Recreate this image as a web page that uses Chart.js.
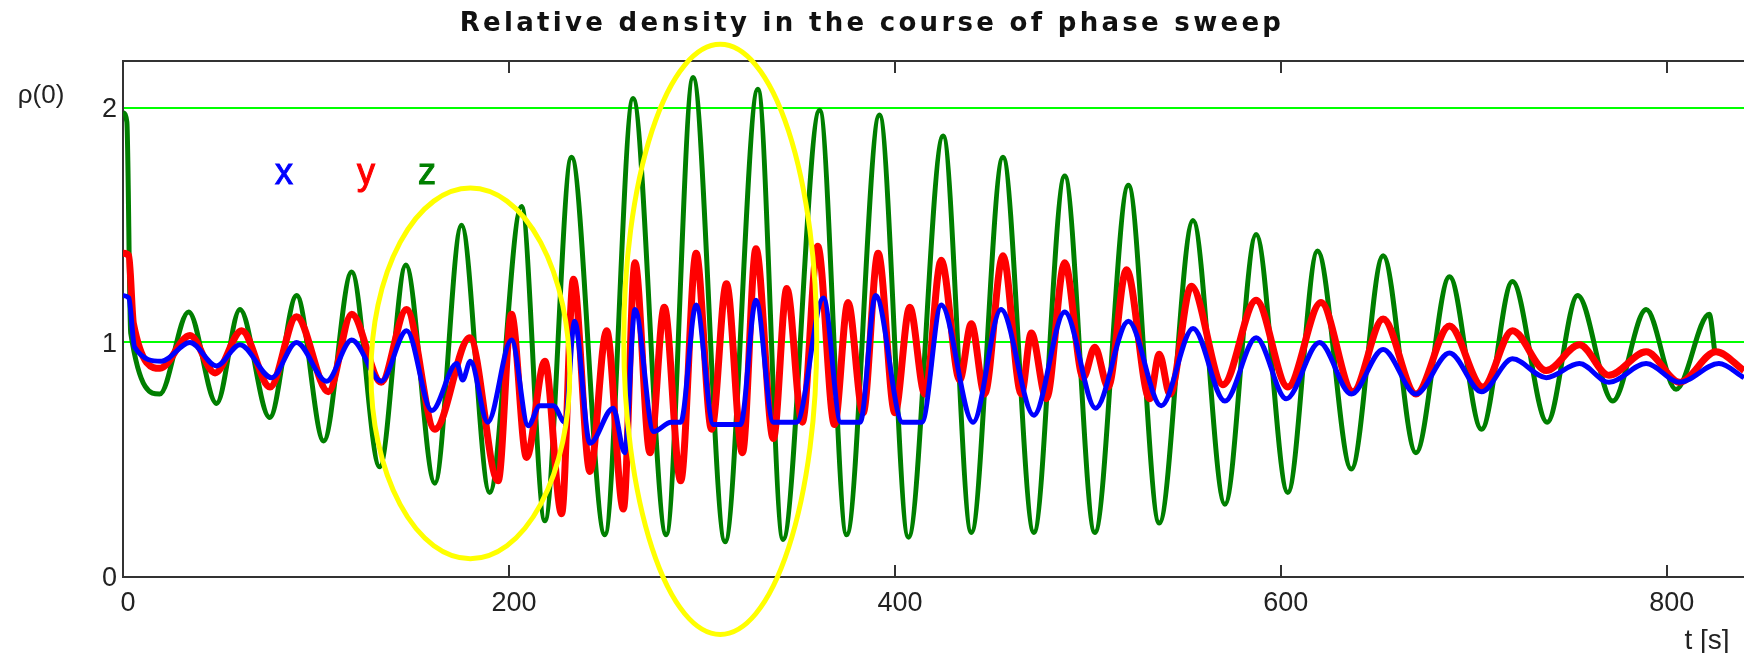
<!DOCTYPE html>
<html>
<head>
<meta charset="utf-8">
<script src="https://cdn.jsdelivr.net/npm/chart.js@4/dist/chart.umd.min.js"></script>
<style>
  html, body { margin: 0; padding: 0; background: #fff; overflow: hidden; }
</style>
</head>
<body>
<canvas id="sweep" width="1744" height="653"></canvas>
<script>
// relative density rho(0) during the phase sweep, read off peak by peak
// [t in s, rho]

var xTicks = [0, 200, 400, 600, 800];
var yTicks = [0, 1, 2];

var rhoX = [
  [0, 1.2], [3, 1.19], [6, 0.98], [20, 0.92], [34.7, 1.0], [48.5, 0.9], [60.6, 0.99],
  [77, 0.85], [89.9, 1.0], [105.5, 0.835], [118.5, 1.01], [133.8, 0.835], [147, 1.05],
  [160, 0.71], [173, 0.91], [176, 0.84], [180, 0.92], [189, 0.66], [201.3, 1.01],
  [210, 0.645], [216, 0.73], [223, 0.73], [229, 0.66], [234, 1.09], [242, 0.57],
  [254, 0.72], [260, 0.53], [265.3, 1.14], [275, 0.62], [284, 0.66], [289, 0.66],
  [297, 1.16], [306, 0.65], [320, 0.65], [328, 1.18], [337, 0.66], [349, 0.66],
  [363, 1.19], [372, 0.66], [382, 0.66], [390, 1.2], [404, 0.66], [414, 0.66],
  [424, 1.16], [440.5, 0.66], [455, 1.14], [472, 0.69], [488, 1.13], [504, 0.72],
  [521, 1.09], [538, 0.73], [554.5, 1.06], [571, 0.75], [587.2, 1.02], [602.8, 0.76],
  [620, 1.0], [636.5, 0.78], [653, 0.97], [670, 0.78], [687.4, 0.955], [704, 0.79],
  [720, 0.93], [737.5, 0.85], [754.7, 0.91], [770, 0.83], [789.3, 0.91], [806.6, 0.83],
  [827, 0.91], [840, 0.85]
];

var rhoY = [
  [0, 1.38], [3, 1.37], [5.4, 1.08], [19.2, 0.89], [34.7, 1.03], [47.7, 0.87], [61.5, 1.05],
  [76.2, 0.81], [89.9, 1.11], [106.4, 0.79], [118.5, 1.12], [133.8, 0.83], [146.9, 1.14],
  [161.6, 0.63], [179.7, 1.02], [194.4, 0.41], [201.3, 1.12], [209.1, 0.51], [218.6, 0.92],
  [227.3, 0.27], [233.4, 1.27], [242, 0.45], [250.6, 1.05], [259.3, 0.29], [265.3, 1.34],
  [273.1, 0.53], [280.5, 1.15], [289, 0.41], [297, 1.38], [305, 0.63], [312.7, 1.25],
  [321, 0.53], [328, 1.4], [337, 0.59], [344, 1.23], [352, 0.66], [360, 1.41], [368.7, 0.65],
  [375.7, 1.17], [383.5, 0.7], [391.3, 1.38], [400, 0.7], [407.7, 1.15], [415.5, 0.78],
  [424, 1.35], [433.6, 0.84], [439.6, 1.08], [446.5, 0.78], [456, 1.37], [465.5, 0.78],
  [470.7, 1.04], [478.5, 0.76], [488, 1.34], [497.6, 0.85], [503.6, 0.98], [510.5, 0.81],
  [520, 1.31], [532, 0.76], [537, 0.95], [542.5, 0.78], [553.6, 1.24], [570, 0.82],
  [587.2, 1.18], [603.6, 0.81], [620.8, 1.17], [637.3, 0.79], [653, 1.1], [670, 0.78],
  [687.4, 1.07], [704.6, 0.81], [720, 1.05], [737.5, 0.88], [754.7, 0.99], [770, 0.86],
  [789.3, 0.96], [806.6, 0.83], [825.5, 0.96], [840, 0.88]
];

var rhoZ = [
  [0, 1.98], [2, 1.94], [4, 1.04], [19, 0.78], [34, 1.13], [48.5, 0.74], [60.6, 1.14],
  [76, 0.68], [90, 1.2], [104, 0.58], [118.5, 1.3], [133, 0.47], [146.6, 1.33],
  [161.6, 0.4], [175.4, 1.5], [190, 0.36], [206.5, 1.58], [218.6, 0.24], [232.4, 1.79],
  [249.7, 0.18], [264.3, 2.04], [281.5, 0.18], [295.4, 2.13], [312, 0.15], [329, 2.08],
  [342, 0.16], [361, 1.99], [375, 0.18], [392, 1.97], [407, 0.17], [425, 1.88],
  [439.6, 0.19], [456, 1.79], [472, 0.19], [488, 1.71], [503.6, 0.19], [521, 1.67],
  [537, 0.23], [554.5, 1.52], [571, 0.31], [587.2, 1.46], [603.6, 0.36], [619, 1.39],
  [636.5, 0.46], [653, 1.37], [670, 0.53], [687.4, 1.28], [704, 0.63], [720, 1.26],
  [738, 0.66], [753.8, 1.2], [772, 0.75], [789.3, 1.14], [804.8, 0.8], [822, 1.12],
  [825, 0.95]
];

// letters in the plot: [text, t, rho at baseline, colour]
var seriesTags = [
  ["x", 83.4, 1.676, "#0000ff"],
  ["y", 125.9, 1.676, "#ff0000"],
  ["z", 157.5, 1.676, "#008000"]
];

// the two yellow rings: [t centre, rho centre, half width in s, half height in rho]
var rings = [
  [180, 0.868, 51.5, 0.79],
  [309.5, 1.013, 50, 1.258]
];

function toPoints(arr) {
  return arr.map(function (p) { return { x: p[0], y: p[1] }; });
}

var tickFont = { family: "Liberation Sans", size: 27 };

var decor = {
  id: "decor",
  afterDatasetsDraw: function (chart) {
    var ctx = chart.ctx;
    var x = chart.scales.x, y = chart.scales.y;
    var area = chart.chartArea;

    // inward tick marks on top and bottom frame
    ctx.save();
    ctx.strokeStyle = "#333";
    ctx.lineWidth = 2;
    xTicks.forEach(function (v) {
      if (v === 0) return;
      var px = Math.round(x.getPixelForValue(v));
      ctx.beginPath();
      ctx.moveTo(px, area.bottom);
      ctx.lineTo(px, area.bottom - 12);
      ctx.moveTo(px, area.top);
      ctx.lineTo(px, area.top + 12);
      ctx.stroke();
    });
    ctx.restore();

    // yellow rings, not clipped to the plot
    ctx.save();
    ctx.strokeStyle = "#ffff00";
    ctx.lineWidth = 5;
    rings.forEach(function (r) {
      var cx = x.getPixelForValue(r[0]);
      var cy = y.getPixelForValue(r[1]);
      var rx = x.getPixelForValue(r[0] + r[2]) - cx;
      var ry = cy - y.getPixelForValue(r[1] + r[3]);
      ctx.beginPath();
      ctx.ellipse(cx, cy, rx, ry, 0, 0, Math.PI * 2);
      ctx.stroke();
    });
    ctx.restore();

    // x y z tags
    ctx.save();
    ctx.font = "36px 'Liberation Sans'";
    ctx.textAlign = "center";
    ctx.textBaseline = "alphabetic";
    seriesTags.forEach(function (s) {
      ctx.fillStyle = s[3];
      ctx.lineWidth = 1;
      ctx.strokeStyle = s[3];
      var px = x.getPixelForValue(s[1]), py = y.getPixelForValue(s[2]);
      ctx.fillText(s[0], px, py);
      ctx.strokeText(s[0], px, py);
    });
    ctx.restore();

    // title and axis names
    ctx.save();
    ctx.fillStyle = "#111";
    ctx.textAlign = "center";
    ctx.textBaseline = "middle";
    ctx.font = "bold 26px 'DejaVu Sans'";
    ctx.letterSpacing = "3.3px";
    ctx.fillText("Relative density in the course of phase sweep", chart.width / 2, 24);
    ctx.letterSpacing = "0px";
    ctx.fillStyle = "#222";
    ctx.font = "26px 'Liberation Sans'";
    ctx.fillText("\u03c1(0)", 41, 96);
    ctx.font = "28px 'Liberation Sans'";
    ctx.fillText("t [s]", 1707, 641);
    ctx.restore();
  }
};

new Chart(document.getElementById("sweep"), {
  type: "line",
  data: {
    datasets: [
      {
        label: "x",
        data: toPoints(rhoX),
        borderColor: "#0000ff",
        borderWidth: 5,
        pointRadius: 0,
        cubicInterpolationMode: "monotone"
      },
      {
        label: "y",
        data: toPoints(rhoY),
        borderColor: "#ff0000",
        borderWidth: 7,
        pointRadius: 0,
        cubicInterpolationMode: "monotone"
      },
      {
        label: "z",
        data: toPoints(rhoZ),
        borderColor: "#007f00",
        borderWidth: 5,
        pointRadius: 0,
        cubicInterpolationMode: "monotone"
      }
    ]
  },
  options: {
    responsive: false,
    animation: false,
    events: [],
    layout: { padding: { top: 61, right: 0, bottom: 0, left: 0 } },
    plugins: {
      legend: { display: false },
      tooltip: { enabled: false },
      title: { display: false }
    },
    scales: {
      x: {
        type: "linear",
        position: "bottom",
        min: 0,
        max: 840,
        afterBuildTicks: function (s) { s.ticks = xTicks.map(function (v) { return { value: v }; }); },
        afterFit: function (s) { s.height = 76; },
        grid: { display: false, drawTicks: false },
        border: { display: true, color: "#333", width: 2 },
        ticks: { font: tickFont, color: "#222", padding: 10, labelOffset: 5, maxRotation: 0, autoSkip: false }
      },
      xTop: {
        type: "linear",
        position: "top",
        min: 0,
        max: 840,
        afterFit: function (s) { s.height = 0; },
        grid: { display: false, drawTicks: false },
        border: { display: true, color: "#333", width: 2 },
        ticks: { display: false }
      },
      y: {
        type: "linear",
        min: 0,
        max: 2.2,
        afterBuildTicks: function (s) { s.ticks = yTicks.map(function (v) { return { value: v }; }); },
        afterFit: function (s) { s.width = 123; },
        grid: {
          drawTicks: false,
          lineWidth: 2,
          color: function (c) { return c.tick && c.tick.value > 0 ? "#00ff00" : "rgba(0,0,0,0)"; }
        },
        border: { display: true, color: "#333", width: 2 },
        ticks: { font: tickFont, color: "#222", padding: 6, labelOffset: 2 }
      }
    }
  },
  plugins: [decor]
});
</script>
</body>
</html>
